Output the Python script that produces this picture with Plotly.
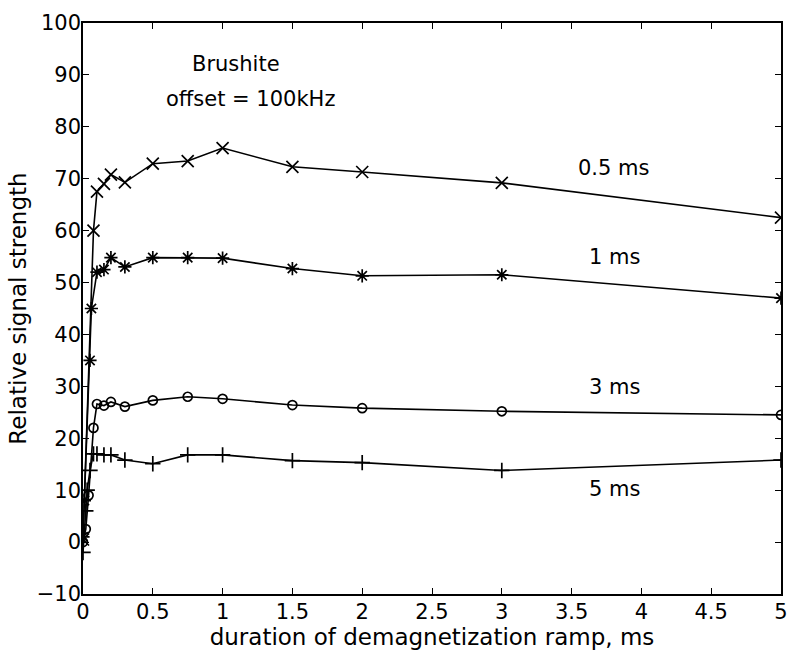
import plotly.graph_objects as go

# Ramp durations (ms) and relative signal strength for each contact time
t_05 = [0, 0.075, 0.1, 0.15, 0.2, 0.3, 0.5, 0.75, 1, 1.5, 2, 3, 5]
s_05 = [0.5, 60, 67.5, 69, 70.8, 69.3, 72.9, 73.4, 75.9, 72.3, 71.3, 69.2, 62.5]

t_1 = [0, 0.01, 0.05, 0.06, 0.1, 0.15, 0.2, 0.3, 0.5, 0.75, 1, 1.5, 2, 3, 5]
s_1 = [1, 8, 35, 45, 52, 52.5, 54.8, 53, 54.8, 54.8, 54.7, 52.7, 51.3, 51.5, 47]

t_3 = [0, 0.02, 0.04, 0.075, 0.1, 0.15, 0.2, 0.3, 0.5, 0.75, 1, 1.5, 2, 3, 5]
s_3 = [0, 2.5, 9, 22, 26.6, 26.3, 27, 26.1, 27.3, 28, 27.6, 26.4, 25.8, 25.2, 24.5]

t_5 = [0, 0.02, 0.03, 0.05, 0.075, 0.1, 0.15, 0.2, 0.3, 0.5, 0.75, 1, 1.5, 2, 3, 5]
s_5 = [-2, 6, 10, 13.8, 17, 17, 16.8, 16.8, 15.8, 15.1, 16.8, 16.8, 15.7, 15.3, 13.8, 15.8]

x_ticks = [0, 0.5, 1, 1.5, 2, 2.5, 3, 3.5, 4, 4.5, 5]
x_tick_labels = ["0", "0.5", "1", "1.5", "2", "2.5", "3", "3.5", "4", "4.5", "5"]
y_ticks = [-10, 0, 10, 20, 30, 40, 50, 60, 70, 80, 90, 100]

series = [
    (t_05, s_05, "x-thin-open", 12, "0.5 ms"),
    (t_1, s_1, "asterisk-open", 11, "1 ms"),
    (t_3, s_3, "circle-open", 9, "3 ms"),
    (t_5, s_5, "cross-thin-open", 11, "5 ms"),
]

# Curve labels placed beside each trace
labels = [
    ("0.5 ms", 3.80, 72.0),
    ("1 ms", 3.81, 54.9),
    ("3 ms", 3.81, 29.9),
    ("5 ms", 3.81, 10.3),
]

FONT = "DejaVu Sans, Liberation Sans, Arial, sans-serif"
TXT = dict(size=21, color="black", family=FONT)

fig = go.Figure()
for x, y, sym, size, name in series:
    fig.add_trace(go.Scatter(
        x=x, y=y, mode="lines+markers", name=name,
        line=dict(color="black", width=1.6),
        marker=dict(symbol=sym, size=size, color="black",
                    line=dict(color="black", width=1.7)),
        showlegend=False,
    ))

for text, xv, yv in labels:
    fig.add_annotation(x=xv, y=yv, text=text, showarrow=False, font=TXT)

fig.add_annotation(x=1.097, y=92.1, text="Brushite", showarrow=False, font=TXT)
fig.add_annotation(x=1.2, y=85.4, text="offset = 100kHz", showarrow=False, font=TXT)

axis_common = dict(
    showgrid=False, zeroline=False, showline=True, linecolor="black",
    linewidth=1.6, mirror="ticks", ticks="inside", ticklen=6,
    tickcolor="black", tickwidth=1.3,
    tickfont=dict(size=21, color="black", family=FONT),
)

fig.update_xaxes(range=[0, 5], tickvals=x_ticks, ticktext=x_tick_labels,
                 ticklabelstandoff=-2,
                 title=dict(text="duration of demagnetization ramp, ms",
                            font=dict(size=23, color="black", family=FONT),
                            standoff=2),
                 **axis_common)
fig.update_yaxes(range=[-10, 100], tickvals=y_ticks,
                 ticklabelstandoff=-4,
                 title=dict(text="Relative signal strength",
                            font=dict(size=23, color="black", family=FONT),
                            standoff=4),
                 **axis_common)

fig.update_layout(
    width=799, height=662,
    margin=dict(l=83, r=11, t=21, b=68),
    paper_bgcolor="white", plot_bgcolor="white",
    font=dict(family=FONT, color="black"),
)

fig.write_html("out.html")
